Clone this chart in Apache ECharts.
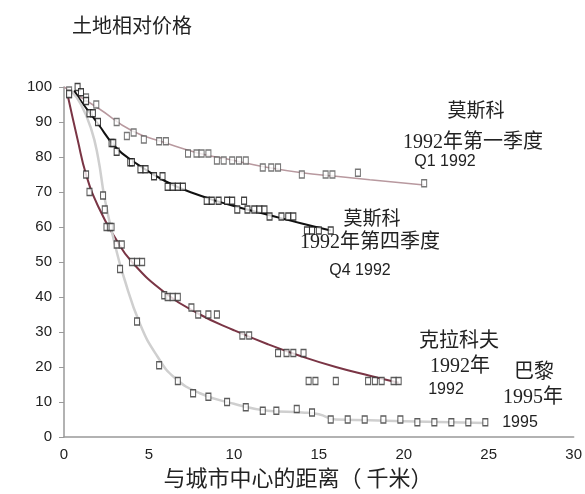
<!DOCTYPE html>
<html>
<head>
<meta charset="utf-8">
<script src="https://cdn.jsdelivr.net/npm/echarts@6/dist/echarts.min.js"></script>
<style>
html, body { margin: 0; padding: 0; background: #fff; }
#chart { width: 585px; height: 494px; }
</style>
</head>
<body>
<div id="chart"></div>
<script>
// 莫斯科 1992年第一季度
const moscowQ1Points = [[0.3,99],[1.3,97],[1.9,95],[3.1,90],[3.7,86],[4.1,87],[4.7,85],[5.6,84.5],[6.0,84.5],[7.3,81],[7.8,81],[8.1,81],[8.5,81],[9.0,79],[9.4,79],[9.9,79],[10.3,79],[10.7,79],[11.7,77],[12.2,77],[12.6,77],[14.0,75],[15.4,75],[15.8,75],[17.3,75.5],[21.2,72.5]];
const moscowQ1Curve = [[0,100],[2,94],[4,87.5],[6,84],[8,81],[10,79],[12,77],[14,75.5],[16,74.5],[18,73.5],[21.2,72]];
// 莫斯科 1992年第四季度
const moscowQ4Points = [[0.8,100],[1.0,98.5],[1.3,96],[1.5,92.5],[1.7,92.5],[2.0,90],[2.8,84],[2.9,84],[3.1,81.5],[3.9,78.5],[4.0,78.5],[4.5,76.5],[4.8,76.5],[5.3,74.5],[5.8,74.5],[6.1,71.5],[6.4,71.5],[6.7,71.5],[7.0,71.5],[8.4,67.5],[8.7,67.5],[9.1,67.5],[9.6,67.5],[9.9,67.5],[10.6,67.5],[10.2,65],[10.8,65],[11.2,65],[11.5,65],[11.8,65],[12.1,63],[12.8,63],[13.2,63],[13.5,63],[14.3,59],[14.6,59],[15.0,59],[15.7,59]];
const moscowQ4Curve = [[0.6,99],[1,96],[2,89.5],[3,83],[4,79],[6,73],[8,69],[10,66],[12,63.5],[14,61],[15.7,59]];
// 克拉科夫 1992年
const krakowPoints = [[0.3,98],[1.3,75],[1.5,70],[2.5,60],[2.7,60],[2.8,60],[3.1,55],[3.4,55],[4.0,50],[4.3,50],[4.6,50],[5.9,40.5],[6.1,40],[6.4,40],[6.7,40],[7.5,37],[7.9,35],[8.5,35],[9.0,35],[10.5,29],[10.9,29],[12.6,24],[13.1,24],[13.5,24],[14.1,24],[14.4,16],[14.8,16],[16.0,16],[17.9,16],[18.3,16],[18.7,16],[19.4,16],[19.7,16]];
const krakowCurve = [[0.2,98],[0.8,85],[1.3,75],[2,66],[3,57],[4,50],[6,41],[8,35],[10,30.5],[12,26.5],[14,23],[16,20],[18,17.5],[19.7,15.5]];
// 巴黎 1995年
const parisPoints = [[0.3,98],[2.3,69],[2.4,65],[3.3,48],[4.3,33],[5.6,20.5],[6.7,16],[7.6,12.5],[8.5,11.5],[9.6,10],[10.7,8.5],[11.7,7.5],[12.5,7.5],[13.7,8],[14.6,7],[15.7,5],[16.7,5],[17.7,5],[18.8,5],[19.8,5],[20.8,4.2],[21.8,4.2],[22.8,4.2],[23.8,4.2],[24.8,4.2]];
const parisCurve = [[0.4,99],[1.0,95],[1.6,88],[2.0,80],[2.4,68],[3.0,55],[3.5,46],[4.5,32],[5.5,23],[6.5,17],[8,12.5],[10,9.5],[12,7.5],[14,7],[15,6.5],[16,5],[18,4.8],[20,4.5],[24.8,4]];

const xTicks = [0, 5, 10, 15, 20, 25, 30];
const yTicks = [0, 10, 20, 30, 40, 50, 60, 70, 80, 90, 100];

const serif = '"Liberation Serif", "Noto Sans CJK SC", serif';
const sans = '"Liberation Sans", "Noto Sans CJK SC", sans-serif';

function curve(data, color, width) {
  return {
    type: 'line',
    data: data,
    smooth: true,
    showSymbol: false,
    silent: true,
    z: 2,
    lineStyle: { color: color, width: width }
  };
}

function dots(data, border) {
  return {
    type: 'scatter',
    data: data,
    symbol: 'rect',
    symbolSize: [5, 7],
    z: 3,
    itemStyle: { color: '#fff', borderColor: border, borderWidth: 1.2 }
  };
}

function label(text, x, y, size, font) {
  return {
    type: 'text',
    x: x,
    y: y,
    style: {
      text: text,
      fill: '#222',
      font: size + 'px ' + font,
      textAlign: 'center',
      textVerticalAlign: 'middle'
    }
  };
}

let myChart = echarts.init(document.getElementById('chart'));
myChart.setOption({
  animation: false,
  title: {
    text: '土地相对价格',
    left: 67,
    top: 10,
    textStyle: { fontSize: 20, fontWeight: 'normal', color: '#222', fontFamily: '"Noto Sans CJK SC"' }
  },
  grid: { left: 64, right: 10, top: 87, bottom: 57 },
  xAxis: {
    type: 'value',
    min: xTicks[0],
    max: xTicks[xTicks.length - 1],
    interval: 5,
    axisLine: { lineStyle: { color: '#999', width: 1.5 } },
    axisTick: { show: false },
    splitLine: { show: false },
    axisLabel: { color: '#222', fontSize: 15, fontFamily: sans, margin: 10 }
  },
  yAxis: {
    type: 'value',
    min: yTicks[0],
    max: yTicks[yTicks.length - 1],
    interval: 10,
    axisLine: { show: true, lineStyle: { color: '#999', width: 1.5 } },
    axisTick: { show: true, length: 5, lineStyle: { color: '#999' } },
    splitLine: { show: false },
    axisLabel: { color: '#222', fontSize: 15, fontFamily: sans, margin: 12 }
  },
  series: [
    curve(moscowQ1Curve, '#b8999f', 1.5),
    curve(moscowQ4Curve, '#111', 2),
    curve(krakowCurve, '#7a3545', 2),
    curve(parisCurve, '#cfcfcf', 2.5),
    dots(moscowQ1Points, '#555'),
    dots(moscowQ4Points, '#111'),
    dots(krakowPoints, '#333'),
    dots(parisPoints, '#333')
  ],
  graphic: [
    label('莫斯科', 476, 112, 19, serif),
    label('1992年第一季度', 473, 143, 20, serif),
    label('Q1 1992', 445, 162, 16, sans),
    label('莫斯科', 372, 220, 19, serif),
    label('1992年第四季度', 370, 243, 20, serif),
    label('Q4 1992', 360, 271, 16, sans),
    label('克拉科夫', 459, 342, 20, serif),
    label('1992年', 460, 367, 20, serif),
    label('1992', 446, 390, 16, sans),
    label('巴黎', 534, 373, 20, serif),
    label('1995年', 533, 398, 20, serif),
    label('1995', 520, 423, 16, sans),
    label('与城市中心的距离（ 千米）', 298, 478, 22, '"Noto Sans CJK SC"')
  ]
});
</script>
</body>
</html>
